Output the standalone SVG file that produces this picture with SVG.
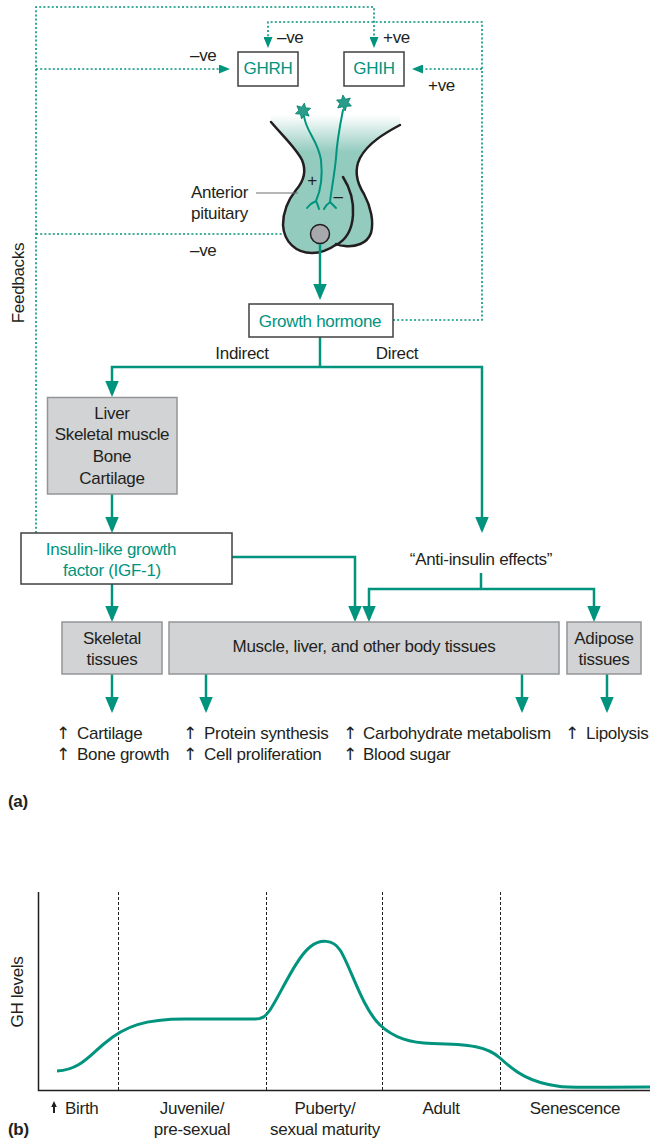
<svg xmlns="http://www.w3.org/2000/svg" width="650" height="1140" viewBox="0 0 650 1140">
  <defs>
    <style>
      text { font-family: "Liberation Sans", Arial, "DejaVu Sans", sans-serif; font-size: 17px; letter-spacing: -0.3px; fill: #231f20; }
      .tl { fill: #00947e; }
      .mid { text-anchor: middle; }
      .bold { font-weight: bold; }
      .up { font-family: "DejaVu Sans", sans-serif; font-size: 17px; text-anchor: middle; }
      .wbox { fill: #ffffff; stroke: #414042; stroke-width: 1.5; }
      .gbox { fill: #d1d3d4; stroke: #939598; stroke-width: 1.5; }
      .conn { fill: none; stroke: #00947e; stroke-width: 2.5; }
      .fb { fill: none; stroke: #00947e; stroke-width: 1.6; stroke-dasharray: 2 2.2; }
      .outline { fill: none; stroke: #231f20; stroke-width: 2.5; stroke-linejoin: round; stroke-linecap: round; }
      .axon { fill: none; stroke: #00947e; stroke-width: 2; stroke-linecap: round; }
      .grid { stroke: #231f20; stroke-width: 1; stroke-dasharray: 3 2; }
      .axis { fill: none; stroke: #231f20; stroke-width: 1.5; }
    </style>
    <marker id="arrow" markerUnits="userSpaceOnUse" markerWidth="16" markerHeight="14" refX="13" refY="6.75" orient="auto-start-reverse">
      <path d="M0,0 L16,6.75 L0,13.5 Z" fill="#00947e"/>
    </marker>
    <marker id="dot-arrow" markerUnits="userSpaceOnUse" markerWidth="11" markerHeight="9" refX="9" refY="4.5" orient="auto">
      <path d="M0,0 L11,4.5 L0,9 Z" fill="#00947e"/>
    </marker>
    <linearGradient id="stalk" gradientUnits="userSpaceOnUse" x1="0" y1="115" x2="0" y2="152">
      <stop offset="0" stop-color="#ffffff"/>
      <stop offset="1" stop-color="#93cbbf"/>
    </linearGradient>
    <polygon id="neuron" points="0,-8 2,-3.5 6.9,-4 4.2,0 6.9,4 2,3.5 0,8 -2,3.5 -6.9,4 -4.2,0 -6.9,-4 -2,-3.5" fill="#2a9d8a" stroke="#00806b" stroke-width="0.8" stroke-linejoin="round"/>
  </defs>

  <!-- feedback loops (dotted) -->
  <g id="feedbacks">
    <path class="fb" d="M36,533 V7 H374 V46" marker-end="url(#dot-arrow)"/>
    <path class="fb" d="M36,69 H228" marker-end="url(#dot-arrow)"/>
    <path class="fb" d="M36,234 H300" marker-end="url(#dot-arrow)"/>
    <path class="fb" d="M393,320 H482 V22 H268 V46" marker-end="url(#dot-arrow)"/>
    <path class="fb" d="M482,69 H414" marker-end="url(#dot-arrow)"/>
    <text x="277" y="43">–ve</text>
    <text x="383" y="43">+ve</text>
    <text x="190" y="61">–ve</text>
    <text x="428" y="91">+ve</text>
    <text x="190" y="256">–ve</text>
    <text transform="translate(24,283) rotate(-90)" class="mid">Feedbacks</text>
  </g>

  <!-- hypothalamic hormones -->
  <g id="ghrh">
    <rect class="wbox" x="238" y="52" width="60" height="34"/>
    <text class="tl mid" x="268" y="74">GHRH</text>
  </g>
  <g id="ghih">
    <rect class="wbox" x="344" y="52" width="60" height="34"/>
    <text class="tl mid" x="374" y="74">GHIH</text>
  </g>

  <!-- pituitary gland -->
  <g id="pituitary">
    <path fill="url(#stalk)" d="M271,115 L271,122 C282,135 296,148 302,160 C307,172 303,182 296,190 C288,200 283,212 283,225 C284,242 296,253 312,253 C322,253 330,249 336,244 C338,245 340,246 345,246 C355,247 367,244 371,233 C374,222 371,207 364,194 C357,183 354,170 360,158 C368,143 385,133 400,125 L400,115 Z"/>
    <path class="outline" d="M271,122 C282,135 296,148 302,160 C307,172 303,182 296,190 C288,200 283,212 283,225 C284,242 296,253 312,253 C322,253 330,249 337,244"/>
    <path class="outline" d="M343,177 C350,188 354,200 353,215 C352,230 346,240 336,245"/>
    <path class="outline" d="M400,125 C385,133 368,143 360,158 C354,170 357,183 364,194 C371,207 374,222 371,233 C367,244 355,247 345,246 C340,246 338,245 336,244"/>
    <path class="axon" d="M304,116 C306,132 318,140 321,160 C323,178 320,192 316,201 M316,201 Q311,203 307,208 M316,201 Q318,205 319,209"/>
    <path class="axon" d="M343,110 C340,125 337,140 336,158 C334,178 331,192 330,202 M330,202 Q326,205 324,209 M330,202 Q333,205 336,208"/>
    <use href="#neuron" transform="translate(303,111) rotate(10)"/>
    <use href="#neuron" transform="translate(344,103) rotate(-8)"/>
    <circle cx="320" cy="234" r="9.5" fill="#a7a9ac" stroke="#231f20" stroke-width="1.5"/>
    <text class="mid" x="312" y="186">+</text>
    <text class="mid" x="338" y="202">–</text>
    <path d="M256,193 H298" stroke="#6d6e71" stroke-width="1.2"/>
    <text x="191" y="198">Anterior</text>
    <text x="191" y="219">pituitary</text>
  </g>

  <!-- main pathways -->
  <g id="connectors">
    <path class="conn" d="M320,244 V297" marker-end="url(#arrow)"/>
    <path class="conn" d="M320,337 V367"/>
    <path class="conn" d="M112,394 V367 H482 V530" marker-start="url(#arrow)" marker-end="url(#arrow)"/>
    <path class="conn" d="M112,494 V530" marker-end="url(#arrow)"/>
    <path class="conn" d="M112,584 V619" marker-end="url(#arrow)"/>
    <path class="conn" d="M232,557 H355 V619" marker-end="url(#arrow)"/>
    <path class="conn" d="M481,573 V589"/>
    <path class="conn" d="M369,619 V589 H594 V619" marker-start="url(#arrow)" marker-end="url(#arrow)"/>
    <path class="conn" d="M112,674 V710" marker-end="url(#arrow)"/>
    <path class="conn" d="M206,674 V710" marker-end="url(#arrow)"/>
    <path class="conn" d="M522,674 V710" marker-end="url(#arrow)"/>
    <path class="conn" d="M607,674 V710" marker-end="url(#arrow)"/>
    <text class="mid" x="242" y="359">Indirect</text>
    <text class="mid" x="397" y="359">Direct</text>
  </g>

  <g id="growth-hormone">
    <rect class="wbox" x="249" y="304" width="144" height="33"/>
    <text class="tl mid" x="320" y="327">Growth hormone</text>
  </g>

  <g id="target-organs">
    <rect class="gbox" x="47.5" y="397.5" width="129.5" height="96.5"/>
    <text class="mid" x="112" y="419">Liver</text>
    <text class="mid" x="112" y="440">Skeletal muscle</text>
    <text class="mid" x="112" y="462">Bone</text>
    <text class="mid" x="112" y="484">Cartilage</text>
  </g>

  <g id="igf1">
    <rect class="wbox" x="21" y="533" width="211" height="51"/>
    <text class="tl mid" x="111" y="555">Insulin-like growth</text>
    <text class="tl mid" x="112" y="576">factor (IGF-1)</text>
  </g>

  <g id="anti-insulin">
    <text class="mid" x="481" y="565">“Anti-insulin effects”</text>
  </g>

  <g id="skeletal-tissues">
    <rect class="gbox" x="62" y="622" width="100" height="52"/>
    <text class="mid" x="112" y="644">Skeletal</text>
    <text class="mid" x="112" y="665">tissues</text>
  </g>
  <g id="body-tissues">
    <rect class="gbox" x="169" y="622" width="390" height="52"/>
    <text class="mid" x="364" y="652">Muscle, liver, and other body tissues</text>
  </g>
  <g id="adipose-tissues">
    <rect class="gbox" x="567" y="622" width="74" height="52"/>
    <text class="mid" x="604" y="644">Adipose</text>
    <text class="mid" x="604" y="665">tissues</text>
  </g>

  <!-- effects -->
  <g id="effects">
    <text class="up" x="63" y="739">↑</text><text x="77" y="739">Cartilage</text>
    <text class="up" x="63" y="760">↑</text><text x="77" y="760">Bone growth</text>
    <text class="up" x="190" y="739">↑</text><text x="204" y="739">Protein synthesis</text>
    <text class="up" x="190" y="760">↑</text><text x="204" y="760">Cell proliferation</text>
    <text class="up" x="350" y="739">↑</text><text x="363" y="739">Carbohydrate metabolism</text>
    <text class="up" x="350" y="760">↑</text><text x="363" y="760">Blood sugar</text>
    <text class="up" x="572" y="739">↑</text><text x="586" y="739">Lipolysis</text>
  </g>

  <text class="bold" x="8" y="807">(a)</text>

  <!-- GH levels over the lifespan -->
  <g id="chart">
    <line class="grid" x1="118.5" y1="892" x2="118.5" y2="1091"/>
    <line class="grid" x1="266.5" y1="892" x2="266.5" y2="1091"/>
    <line class="grid" x1="382.5" y1="892" x2="382.5" y2="1091"/>
    <line class="grid" x1="500.5" y1="892" x2="500.5" y2="1091"/>
    <path class="axis" d="M38.5,892 V1090.5 H650"/>
    <path fill="none" stroke="#00947e" stroke-width="3" d="M57,1071 C80,1070 90,1055 105,1043 C125,1026 145,1019 185,1019 L255,1019 C262,1019 265,1017 270,1010 C280,995 296,958 310,947 C320,939 333,939 340,950 C350,965 362,1008 380,1025 C394,1038 410,1043 432,1043.5 C470,1044 488,1047 500,1058 C515,1072 530,1083 560,1086.5 C575,1088 600,1087 650,1087"/>
    <text transform="translate(23,992) rotate(-90)" class="mid">GH levels</text>
    <path d="M54,1101 L56.8,1107 L55,1107 L55,1113 L53,1113 L53,1107 L51.2,1107 Z" fill="#231f20"/>
    <text x="65" y="1114">Birth</text>
    <text class="mid" x="192" y="1114">Juvenile/</text>
    <text class="mid" x="192" y="1135">pre-sexual</text>
    <text class="mid" x="325" y="1114">Puberty/</text>
    <text class="mid" x="325" y="1135">sexual maturity</text>
    <text class="mid" x="441" y="1114">Adult</text>
    <text class="mid" x="575" y="1114">Senescence</text>
  </g>

  <text class="bold" x="8" y="1135">(b)</text>
</svg>
